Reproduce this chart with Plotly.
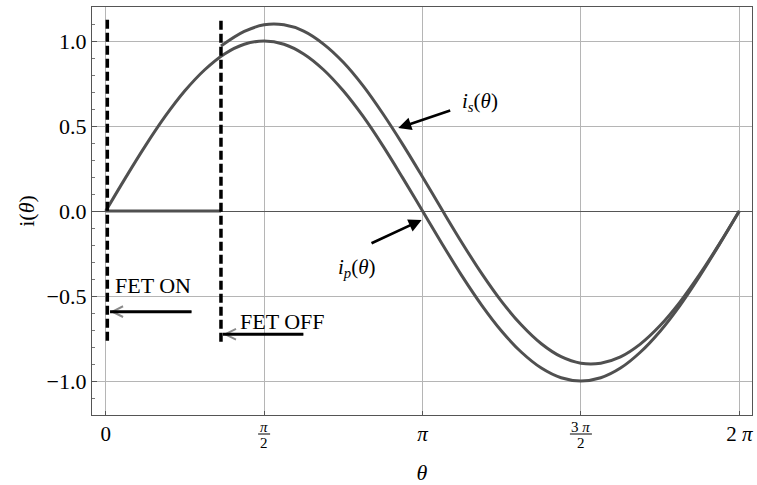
import plotly.graph_objects as go

# ---- data ----
theta_p = [0.0, 0.196, 0.393, 0.589, 0.785, 0.982, 1.178, 1.374, 1.571, 1.767, 1.963,
           2.160, 2.356, 2.553, 2.749, 2.945, 3.142, 3.338, 3.534, 3.731, 3.927, 4.123,
           4.320, 4.516, 4.712, 4.909, 5.105, 5.301, 5.498, 5.694, 5.890, 6.087, 6.283]
i_p = [0.0, 0.195, 0.383, 0.556, 0.707, 0.831, 0.924, 0.981, 1.0, 0.981, 0.924,
       0.831, 0.707, 0.556, 0.383, 0.195, 0.0, -0.195, -0.383, -0.556, -0.707, -0.831,
       -0.924, -0.981, -1.0, -0.981, -0.924, -0.831, -0.707, -0.556, -0.383, -0.195, 0.0]

theta_s_on = [0.0, 1.143]
i_s_on = [0.0, 0.0]

theta_s = [1.143, 1.374, 1.571, 1.767, 1.963, 2.160, 2.356, 2.553, 2.749, 2.945, 3.142,
           3.338, 3.534, 3.731, 3.927, 4.123, 4.320, 4.516, 4.712, 4.909, 5.105, 5.301,
           5.498, 5.694, 5.890, 6.087, 6.283]
i_s = [0.970, 1.056, 1.095, 1.095, 1.058, 0.982, 0.875, 0.736, 0.572, 0.392, 0.200,
       0.004, -0.188, -0.370, -0.533, -0.671, -0.781, -0.857, -0.895, -0.895, -0.858, -0.783,
       -0.674, -0.536, -0.373, -0.192, 0.0]

fet_on_theta = 0.016
fet_off_theta = 1.143
fet_on_span = [-0.763, 1.128]
fet_off_span = [-0.769, 1.12]

x_tickvals = [0.0, 1.5708, 3.1416, 4.7124, 6.2832]
x_ticktext = ["0", "", "<i>π</i>", "", "2 <i>π</i>"]
frac_ticks = [(1.5708, "<i>π</i>", "2"), (4.7124, "3 <i>π</i>", "2")]
y_tickvals = [-1.0, -0.5, 0.0, 0.5, 1.0]
y_ticktext = ["−1.0", "−0.5", "0.0", "0.5", "1.0"]

FONT = "Liberation Serif"
CURVE = "#505050"

fig = go.Figure()
fig.add_trace(go.Scatter(x=theta_p, y=i_p, mode="lines", line=dict(color=CURVE, width=3, shape="spline"), showlegend=False))
fig.add_trace(go.Scatter(x=theta_s_on, y=i_s_on, mode="lines", line=dict(color=CURVE, width=3), showlegend=False))
fig.add_trace(go.Scatter(x=theta_s, y=i_s, mode="lines", line=dict(color=CURVE, width=3, shape="spline"), showlegend=False))
fig.add_trace(go.Scatter(x=[fet_on_theta, fet_on_theta], y=fet_on_span, mode="lines",
                         line=dict(color="black", width=3.5, dash="9px,4px"), showlegend=False))
fig.add_trace(go.Scatter(x=[fet_off_theta, fet_off_theta], y=fet_off_span, mode="lines",
                         line=dict(color="black", width=3.5, dash="9px,4px"), showlegend=False))

ann = []
# curve labels
ann.append(dict(x=3.708, y=0.641, xref="x", yref="y", showarrow=False,
                text="<i>i<sub>s</sub></i>(<i>θ</i>)", font=dict(family=FONT, size=21, color="black")))
ann.append(dict(x=2.493, y=-0.335, xref="x", yref="y", showarrow=False,
                text="<i>i<sub>p</sub></i>(<i>θ</i>)", font=dict(family=FONT, size=21, color="black")))
# pointing arrows
ann.append(dict(x=2.901, y=0.488, ax=3.431, ay=0.594, xref="x", yref="y", axref="x", ayref="y",
                text="", showarrow=True, arrowhead=2, arrowsize=1, arrowwidth=2.6, arrowcolor="black", standoff=0))
ann.append(dict(x=3.133, y=-0.053, ax=2.621, ay=-0.194, xref="x", yref="y", axref="x", ayref="y",
                text="", showarrow=True, arrowhead=2, arrowsize=1, arrowwidth=2.6, arrowcolor="black", standoff=0))
# FET texts
ann.append(dict(x=0.469, y=-0.441, xref="x", yref="y", showarrow=False, text="FET ON",
                font=dict(family=FONT, size=22, color="black")))
ann.append(dict(x=1.753, y=-0.651, xref="x", yref="y", showarrow=False, text="FET OFF",
                font=dict(family=FONT, size=22, color="black")))
# FET arrows: thin grey chevron + thick black shaft
for tip, tail, yy in [(0.043, 0.866, -0.592), (1.163, 1.975, -0.725)]:
    ann.append(dict(x=tip, y=yy, ax=tail, ay=yy, xref="x", yref="y", axref="x", ayref="y",
                    text="", showarrow=True, arrowhead=5, arrowsize=2.1, arrowwidth=1,
                    arrowcolor="#8a8a8a", standoff=0))
    ann.append(dict(x=tip, y=yy, ax=tail, ay=yy, xref="x", yref="y", axref="x", ayref="y",
                    text="", showarrow=True, arrowhead=0, arrowwidth=3, arrowcolor="black", standoff=0))

shapes = []
for xv, num, den in frac_ticks:
    ann.append(dict(x=xv, y=0, xref="x", yref="paper", yanchor="middle", yshift=-12, showarrow=False,
                    text=num, font=dict(family=FONT, size=15, color="black")))
    ann.append(dict(x=xv, y=0, xref="x", yref="paper", yanchor="middle", yshift=-28, showarrow=False,
                    text=den, font=dict(family=FONT, size=15, color="black")))
    half = 6 if "3" not in num else 11
    shapes.append(dict(type="line", xref="x", yref="paper", xsizemode="pixel", ysizemode="pixel",
                       xanchor=xv, yanchor=0, x0=-half, x1=half, y0=-19, y1=-19,
                       line=dict(color="black", width=1)))

fig.update_layout(
    width=757, height=485,
    margin=dict(l=92, r=5, t=7, b=70),
    paper_bgcolor="white", plot_bgcolor="white",
    font=dict(family=FONT, size=21, color="black"),
    annotations=ann, shapes=shapes,
    xaxis=dict(range=[-0.136, 6.409], tickvals=x_tickvals, ticktext=x_ticktext, automargin=False,
               showgrid=True, gridcolor="#b5b5b5", gridwidth=1, zeroline=False,
               showline=True, linecolor="#555", linewidth=1.2, mirror=True,
               ticks="inside", ticklen=4, tickcolor="#555",
               tickfont=dict(family=FONT, size=21, color="black"),
               title=dict(text="<i>θ</i>", font=dict(family=FONT, size=22, color="black"), standoff=20)),
    yaxis=dict(range=[-1.2, 1.2], tickvals=y_tickvals, ticktext=y_ticktext, automargin=False,
               showgrid=True, gridcolor="#b5b5b5", gridwidth=1,
               zeroline=True, zerolinecolor="#555", zerolinewidth=1.3,
               showline=True, linecolor="#555", linewidth=1.2, mirror=True,
               ticks="inside", ticklen=5, tickcolor="#555", ticklabelstandoff=0,
               minor=dict(dtick=0.1, ticks="inside", ticklen=3, tickcolor="#777", showgrid=False),
               tickfont=dict(family=FONT, size=22, color="black"),
               title=dict(text="i(<i>θ</i>)", font=dict(family=FONT, size=22, color="black"), standoff=5)),
)

# remove the default 8px page margin so the 757x485 figure fills the window exactly
fig.write_html("out.html", config={"displayModeBar": False},
               post_script="document.body.style.margin='0px';document.body.style.overflow='hidden';")
